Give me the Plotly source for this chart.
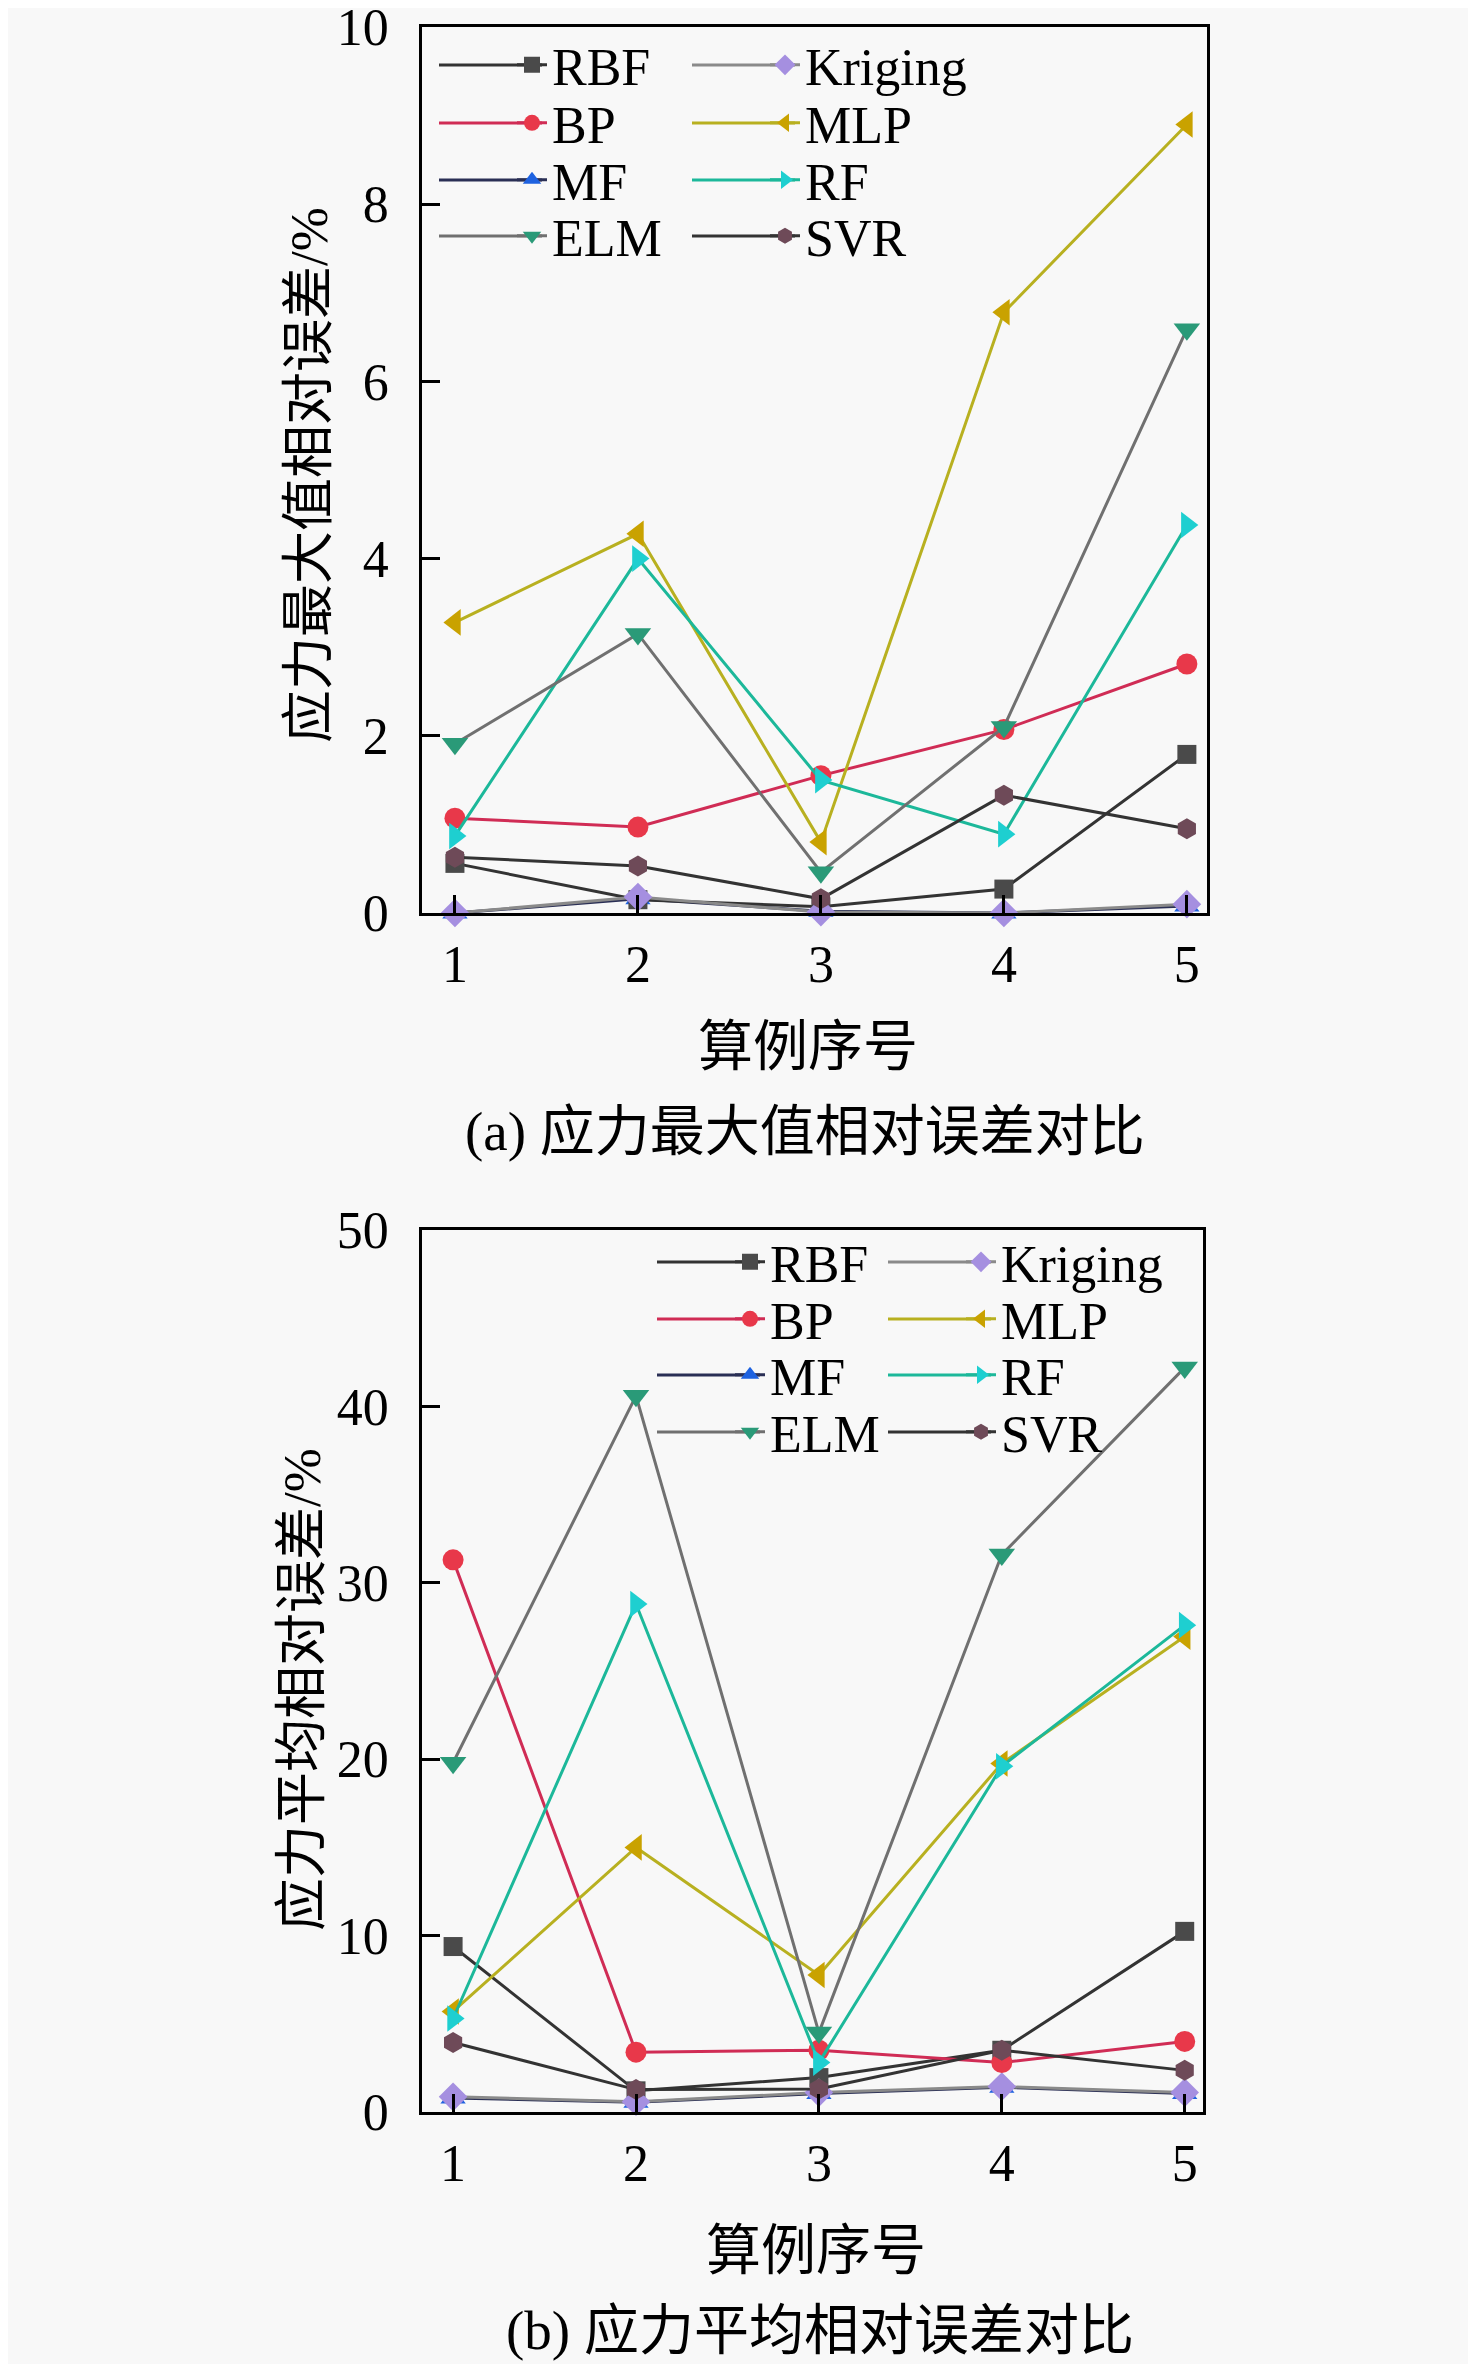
import plotly.graph_objects as go

# case numbers on the x axis
cases = [1, 2, 3, 4, 5]

# (a) relative error of maximum stress, %
max_rbf = [0.56, 0.15, 0.07, 0.27, 1.79]
max_kriging = [0.0, 0.18, 0.01, 0.0, 0.10]
max_bp = [1.07, 0.97, 1.55, 2.07, 2.81]
max_mlp = [3.28, 4.28, 0.80, 6.78, 8.90]
max_mf = [0.0, 0.16, 0.02, 0.0, 0.08]
max_rf = [0.87, 4.00, 1.50, 0.89, 4.38]
max_elm = [1.91, 3.15, 0.46, 2.10, 6.59]
max_svr = [0.63, 0.53, 0.16, 1.33, 0.95]

# (b) relative error of mean stress, %
mean_rbf = [9.38, 1.20, 1.95, 3.50, 10.24]
mean_kriging = [0.86, 0.58, 1.10, 1.44, 1.10]
mean_bp = [31.3, 3.39, 3.50, 2.80, 4.00]
mean_mlp = [5.70, 15.0, 7.77, 19.76, 26.95]
mean_mf = [0.80, 0.55, 1.05, 1.40, 1.05]
mean_rf = [5.30, 28.8, 2.80, 19.6, 27.6]
mean_elm = [19.8, 40.6, 4.50, 31.6, 42.2]
mean_svr = [3.94, 1.27, 1.30, 3.50, 2.36]

yticks_a = [0, 2, 4, 6, 8, 10]
yticks_b = [0, 10, 20, 30, 40, 50]

SERIF = "Liberation Serif"
CJK = "Liberation Serif, Noto Sans CJK SC"
BG = "#f8f8f8"

# name: marker symbol, marker colour, line colour, size, legend column, legend row
styles = {
    "MF": ("triangle-up", "#1e62e0", "#2a2f55", 22, 0, 2),
    "RBF": ("square", "#4a4a4a", "#333333", 19, 0, 0),
    "Kriging": ("diamond", "#a58fe0", "#8a8a8a", 22, 1, 0),
    "BP": ("circle", "#e8384a", "#d02c55", 21, 0, 1),
    "MLP": ("triangle-left", "#c9a200", "#b8b020", 23, 1, 1),
    "RF": ("triangle-right", "#1ecfd0", "#1cb89a", 23, 1, 2),
    "ELM": ("triangle-down", "#2a9a78", "#707070", 23, 0, 3),
    "SVR": ("hexagon", "#6e4a58", "#333333", 21, 1, 3),
}

data_a = {"MF": max_mf, "RBF": max_rbf, "Kriging": max_kriging, "BP": max_bp,
          "MLP": max_mlp, "RF": max_rf, "ELM": max_elm, "SVR": max_svr}
data_b = {"MF": mean_mf, "RBF": mean_rbf, "Kriging": mean_kriging, "BP": mean_bp,
          "MLP": mean_mlp, "RF": mean_rf, "ELM": mean_elm, "SVR": mean_svr}

W, H = 1476, 2364
OFF = 8  # the page body margin shifts the figure by 8 px


def px_x(p):
    return (p - OFF) / W


def px_y(p):
    return 1 - (p - OFF) / H


# legend positions in screen pixels: left edge of each column, centre of each row
panels = [
    (data_a, "x", "y", [512, 765], [65, 123, 180, 236]),
    (data_b, "x2", "y2", [730, 961], [1262, 1319, 1375, 1432]),
]

legend_font = dict(family=SERIF, size=52, color="black")
legends = {}
shapes = []
fig = go.Figure()
n = 0
for data, xa, ya, cols, rows in panels:
    for name, vals in data.items():
        sym, mcol, lcol, size, col, row = styles[name]
        n += 1
        key = "legend" if n == 1 else f"legend{n}"
        legends[key] = dict(
            x=px_x(cols[col]), y=px_y(rows[row]), xanchor="left", yanchor="middle",
            font=legend_font, bgcolor="rgba(0,0,0,0)", borderwidth=0,
        )
        # longer sample line behind the legend symbol, as in the original figure
        shapes.append(dict(
            type="line", xref="paper", yref="paper", layer="above",
            x0=px_x(cols[col] - 73), x1=px_x(cols[col] + 30),
            y0=px_y(rows[row]), y1=px_y(rows[row]),
            line=dict(color=lcol, width=3),
        ))
        fig.add_trace(go.Scatter(
            x=cases, y=vals, name=name, mode="lines+markers",
            line=dict(color=lcol, width=3),
            marker=dict(symbol=sym, color=mcol, size=size),
            xaxis=xa, yaxis=ya, legend=key,
            cliponaxis=False,
        ))

axis_common = dict(
    showline=True, linecolor="black", linewidth=2.5, mirror=True,
    ticks="inside", ticklen=18, tickwidth=2.5, tickcolor="black",
    showgrid=False, zeroline=False, automargin=False,
    tickfont=dict(family=SERIF, size=52, color="black"),
    ticklabeloverflow="allow",
)

fig.update_layout(
    template="none",
    width=W, height=H,
    margin=dict(l=0, r=0, t=0, b=0, autoexpand=False),
    paper_bgcolor=BG, plot_bgcolor=BG,
    showlegend=True,
    xaxis=dict(domain=[px_x(422), px_x(1207)], range=[0.82, 5.11],
               tickvals=cases, anchor="y", ticklabelstandoff=4, **axis_common),
    yaxis=dict(domain=[px_y(913), px_y(27)], range=[0, 10],
               tickvals=yticks_a, anchor="x", ticklabelstandoff=20, **axis_common),
    xaxis2=dict(domain=[px_x(422), px_x(1203)], range=[0.83, 5.10],
                tickvals=cases, anchor="y2", ticklabelstandoff=4, **axis_common),
    yaxis2=dict(domain=[px_y(2112), px_y(1230)], range=[0, 50],
                tickvals=yticks_b, anchor="x2", ticklabelstandoff=20, **axis_common),
    shapes=shapes,
    **legends,
)

texts = [
    ("应力最大值相对误差/%", 309, 475, -90, 53),
    ("算例序号", 808, 1046, 0, 55),
    ("(a) 应力最大值相对误差对比", 805, 1131, 0, 55),
    ("应力平均相对误差/%", 302, 1690, -90, 53),
    ("算例序号", 816, 2250, 0, 55),
    ("(b) 应力平均相对误差对比", 820, 2330, 0, 55),
]
for txt, cx, cy, ang, fs in texts:
    fig.add_annotation(
        text=txt, x=px_x(cx), y=px_y(cy), xref="paper", yref="paper",
        xanchor="center", yanchor="middle", textangle=ang, showarrow=False,
        font=dict(family=CJK, size=fs, color="black"),
    )

fig.write_html("out.html")
